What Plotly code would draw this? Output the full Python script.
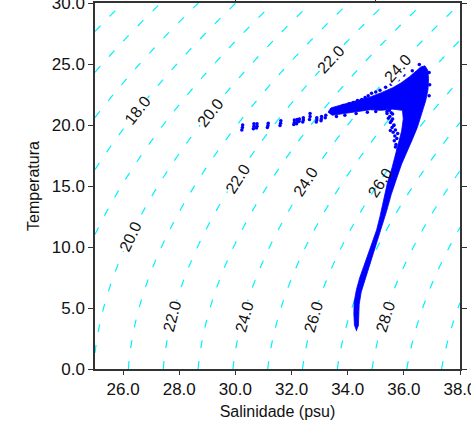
import numpy as np
import plotly.graph_objects as go

# ---------------- data ----------------
# dense core of the T-S cloud (outline of the solid region), salinity / temperature
core_s = [34.32, 34.24, 34.22, 34.23, 34.31, 34.43, 34.57, 34.73, 34.87, 35.03, 35.15, 35.27,
          35.42, 35.58, 35.70, 35.82, 35.92, 35.98, 35.95, 35.60, 35.20, 34.80, 34.40, 34.00,
          33.70, 33.45, 33.30, 33.40, 33.70, 34.00, 34.40, 34.80, 35.20, 35.60, 35.90, 36.20,
          36.45, 36.60, 36.75, 36.85, 36.88, 36.86, 36.78, 36.65, 36.48, 36.30, 36.10, 35.92,
          35.74, 35.55, 35.38, 35.24, 35.08, 34.90, 34.74, 34.58, 34.48, 34.41, 34.38, 34.38]
core_t = [3.1, 3.6, 4.5, 5.5, 6.5, 7.5, 8.4, 9.4, 10.3, 11.4, 12.5, 13.8,
          15.3, 16.5, 17.5, 18.5, 19.5, 20.5, 21.2, 21.3, 21.2, 21.25, 21.1, 20.95,
          20.85, 20.8, 21.05, 21.4, 21.6, 21.78, 22.02, 22.3, 22.65, 23.05, 23.45, 23.95,
          24.45, 24.75, 24.85, 24.5, 23.8, 22.9, 22.0, 21.0, 19.8, 18.8, 17.8, 16.8,
          15.6, 14.3, 12.9, 11.9, 10.6, 9.4, 8.3, 7.2, 6.3, 5.3, 4.3, 3.5]

# scattered secondary branch below the junction
branch_s = [35.55, 35.50, 35.60, 35.52, 35.65, 35.58, 35.70, 35.62, 35.68, 35.75, 35.66, 35.72,
            35.60, 35.78, 35.70, 35.80, 35.48, 35.56, 35.45, 35.64, 35.40, 35.52]
branch_t = [21.0, 20.7, 20.5, 20.2, 20.0, 19.8, 19.6, 19.4, 19.1, 18.9, 18.7, 18.4,
            20.9, 19.3, 18.2, 18.0, 21.2, 20.35, 20.55, 19.95, 20.95, 19.55]

# scattered points along the fringe of the warm branch
fringe_s = [33.84, 34.05, 34.20, 34.35, 34.50, 34.62, 34.73, 34.85, 35.00, 35.15, 35.35, 35.55,
            35.80, 36.00, 36.30, 36.55, 36.90, 36.92, 36.90, 33.60, 33.90, 34.30, 34.70, 35.00,
            35.40]
fringe_t = [21.6, 21.75, 21.85, 22.0, 22.1, 22.25, 22.4, 22.6, 22.7, 22.85, 23.1, 23.35,
            23.7, 24.1, 24.45, 24.95, 24.3, 23.3, 22.4, 20.7, 20.8, 20.95, 21.05, 21.1,
            21.1]

# isolated low-salinity surface clusters
comma_s = [30.26, 30.25, 30.23, 30.66, 30.66, 30.64, 30.77, 30.77, 30.75,
           31.17, 31.16, 31.14, 31.62, 31.61, 31.59,
           32.10, 32.10, 32.08, 32.20, 32.20, 32.18, 32.28, 32.27,
           32.42, 32.42, 32.40, 32.66, 32.66, 32.64, 32.90, 32.90, 32.88,
           33.07, 33.06, 33.05, 33.22, 33.20]
comma_t = [20.0, 19.8, 19.6, 20.1, 19.9, 19.7, 20.1, 19.9, 19.75,
           20.15, 19.95, 19.8, 20.35, 20.15, 19.95,
           20.4, 20.2, 20.05, 20.45, 20.25, 20.1, 20.5, 20.3,
           20.6, 20.4, 20.25, 20.95, 20.7, 20.45, 20.6, 20.4, 20.25,
           20.7, 20.5, 20.35, 20.8, 20.6]

# sigma-t contour labels: value and where they sit (salinity, temperature)
label_vals = [18, 20, 22, 24, 20, 22, 24, 26, 22, 24, 26, 28]
label_s = [26.51, 29.12, 33.39, 35.77, 26.27, 30.06, 32.51, 35.17, 27.75, 30.31, 32.77, 35.33]
label_t = [21.2, 21.0, 25.4, 24.65, 10.85, 15.57, 15.36, 15.25, 4.29, 4.24, 4.24, 4.24]

# axis ticks
x_ticks = [26, 28, 30, 32, 34, 36, 38]
y_ticks = [0, 5, 10, 15, 20, 25, 30]
top_ticks = [30, 35]

X_RANGE = [25, 38]
Y_RANGE = [0, 30]
W, H = 471, 426
M = dict(l=95, r=11, t=3, b=57)


# ---------------- sigma-t (UNESCO EOS-80, p = 0) ----------------
def sigma_t(s, t):
    rho_w = (999.842594 + 6.793952e-2 * t - 9.095290e-3 * t**2 + 1.001685e-4 * t**3
             - 1.120083e-6 * t**4 + 6.536332e-9 * t**5)
    a = 0.824493 - 4.0899e-3 * t + 7.6438e-5 * t**2 - 8.2467e-7 * t**3 + 5.3875e-9 * t**4
    b = -5.72466e-3 + 1.0227e-4 * t - 1.6546e-6 * t**2
    return rho_w + a * s + b * s**1.5 + 4.8314e-4 * s**2 - 1000.0


S = np.linspace(X_RANGE[0], X_RANGE[1], 131)
T = np.linspace(Y_RANGE[0], Y_RANGE[1], 151)
SS, TT = np.meshgrid(S, T)
sigma = sigma_t(SS, TT)

# pixel scale of the plot area, used to orient labels along the isopycnals
px_s = (W - M["l"] - M["r"]) / (X_RANGE[1] - X_RANGE[0])
px_t = (H - M["t"] - M["b"]) / (Y_RANGE[1] - Y_RANGE[0])

FONT = "Liberation Sans, Arial, sans-serif"
BLUE = "#0000ff"
AX = "#333333"
CYAN = "#00f0ff"

fig = go.Figure()

fig.add_trace(go.Contour(
    x=S, y=T, z=sigma, showscale=False, hoverinfo="skip",
    contours=dict(start=14, end=30, size=1, coloring="none", showlabels=False),
    line=dict(color=CYAN, width=1.2, dash="8px,13px")))

fig.add_trace(go.Scatter(x=core_s, y=core_t, mode="lines", fill="toself",
                         fillcolor=BLUE, line=dict(color=BLUE, width=0.8),
                         showlegend=False, hoverinfo="skip"))
for xs, ys in [(branch_s, branch_t), (fringe_s, fringe_t), (comma_s, comma_t)]:
    fig.add_trace(go.Scatter(x=xs, y=ys, mode="markers",
                             marker=dict(color=BLUE, size=3.5, line=dict(width=0)),
                             showlegend=False, hoverinfo="skip"))

# carries the top frame ticks
fig.add_trace(go.Scatter(x=top_ticks, y=[None] * len(top_ticks), xaxis="x2", yaxis="y",
                         mode="markers", showlegend=False, hoverinfo="skip"))

annotations = []
for v, s, t in zip(label_vals, label_s, label_t):
    e = 1e-3
    ds = (sigma_t(s + e, t) - sigma_t(s - e, t)) / (2 * e)
    dt = (sigma_t(s, t + e) - sigma_t(s, t - e)) / (2 * e)
    # direction along contour (upwards in temperature)
    vx = -dt / ds * px_s
    vy = px_t
    ang = -np.degrees(np.arctan2(vy, vx))
    near_cloud = s > 35 and 8 < t < 20
    annotations.append(dict(x=s, y=t, xref="x", yref="y", text=f"{v:.1f}",
                            showarrow=False, textangle=ang,
                            bgcolor="rgba(255,255,255,0)" if near_cloud else "white",
                            borderpad=0,
                            font=dict(family=FONT, size=16, color="#111")))

fig.update_layout(
    width=W, height=H,
    margin=M,
    paper_bgcolor="white", plot_bgcolor="white",
    font=dict(family=FONT, size=17, color="#111"),
    showlegend=False,
    annotations=annotations,
    xaxis=dict(range=X_RANGE, tickvals=x_ticks, tickformat=".1f", automargin=False,
               ticklabeloverflow="allow",
               ticks="outside", ticklen=4, tickwidth=1.2, tickcolor=AX,
               showline=True, linecolor=AX, linewidth=1.5, mirror=True,
               showgrid=False, zeroline=False,
               title=dict(text="Salinidade (psu)", font=dict(size=16), standoff=8)),
    yaxis=dict(range=Y_RANGE, tickvals=y_ticks, tickformat=".1f", automargin=False,
               ticklabeloverflow="allow",
               ticks="outside", ticklen=5, tickwidth=1.2, tickcolor=AX,
               showline=True, linecolor=AX, linewidth=1.5, mirror="ticks",
               showgrid=False, zeroline=False,
               title=dict(text="Temperatura", font=dict(size=16), standoff=8)),
    xaxis2=dict(overlaying="x", side="top", range=X_RANGE, tickvals=top_ticks,
                automargin=False,
                ticks="outside", ticklen=5, tickwidth=1.2, tickcolor=AX,
                showticklabels=False, showline=False, showgrid=False, zeroline=False),
)

fig.write_html("out.html",
               config={"displayModeBar": False},
               post_script="document.body.style.margin='0';"
                           "document.body.style.overflow='hidden';")
